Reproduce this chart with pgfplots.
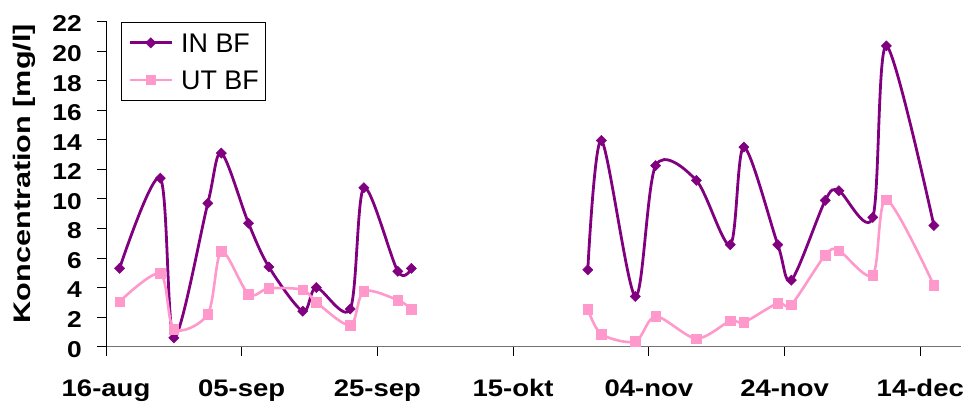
\documentclass[border=0pt]{standalone}
\usepackage{pgfplots}
\pgfplotsset{compat=1.18}
\usepackage{fontspec}
\setmainfont{Liberation Sans}
\newfontfamily\tickfont{Liberation Sans}[FakeStretch=1.15]
\newfontfamily\labfont{Liberation Sans}[FakeStretch=1.28]

\definecolor{inbf}{HTML}{800080}
\definecolor{utbf}{HTML}{FF99CC}

% day 0 = 16-aug
\pgfplotstableread{
day val
2 5.3
8 11.4
10 0.6
15 9.7
17 13.1
21 8.35
24 5.4
29 2.4
31 4.0
36 2.55
38 10.75
43 5.1
45 5.3
}\inA
\pgfplotstableread{
day val
71 5.2
73 13.95
78 3.4
81 12.25
87 11.25
92 6.9
94 13.5
99 6.9
101 4.5
106 9.9
108 10.55
113 8.75
115 20.35
122 8.2
}\inB
\pgfplotstableread{
day val
2 3.05
8 4.95
10 1.2
15 2.2
17 6.45
21 3.55
24 3.95
29 3.85
31 3.0
36 1.45
38 3.75
43 3.15
45 2.55
}\utA
\pgfplotstableread{
day val
71 2.55
73 0.85
78 0.35
81 2.05
87 0.55
92 1.75
94 1.65
99 2.95
101 2.85
106 6.2
108 6.5
113 4.85
115 9.95
122 4.15
}\utB

\begin{document}
\begin{tikzpicture}
\useasboundingbox (0,0) rectangle (967bp,403bp);
\begin{axis}[
  at={(106bp,56.3bp)}, anchor=south west,
  scale only axis, width=855bp, height=325.2bp,
  xmin=0, xmax=126, ymin=0, ymax=22,
  clip=false,
  axis x line*=bottom, axis y line*=left,
  x axis line style={draw=black!55, line width=1.2bp, -},
  y axis line style={draw=black, line width=1bp, -},
  xtick={0,20,...,120},
  xticklabels={16-aug,05-sep,25-sep,15-okt,04-nov,24-nov,14-dec},
  ytick={0,2,...,22},
  tick align=outside, major tick length=9bp,
  tick style={black, line width=0.9bp},
  /pgf/number format/assume math mode=true,
  xticklabel style={font=\tickfont\bfseries\fontsize{24}{24}\selectfont, anchor=base, inner sep=0pt, yshift=-41bp},
  yticklabel style={font=\tickfont\bfseries\fontsize{23}{23}\selectfont, anchor=east, inner sep=0pt, xshift=-15bp, yshift=-2.5bp},
  legend style={at={(axis description cs:0.0175,0.9985)}, anchor=north west,
    draw=black, line width=0.8bp, inner xsep=7bp, inner ysep=10.8bp,
    font=\fontsize{27}{27}\selectfont, row sep=17.7bp,
    nodes={inner sep=0pt, text height=19.3bp, text depth=0pt},
    /tikz/every odd column/.append style={column sep=8bp}},
  legend cell align=left,
  legend image code/.code={%
    \draw[mark repeat=2, mark phase=2, #1] plot coordinates {(0bp,0bp) (21bp,0bp) (42bp,0bp)};},
]
\addplot[inbf, line width=2.8bp, smooth, tension=0.5, mark=square*, mark size=3.6bp,
  mark options={rotate=45, solid, line width=0.5bp}] table[x=day, y=val] {\inA};
\addlegendentry{IN BF}
\addplot[utbf, line width=2.6bp, smooth, tension=0.5, mark=square*, mark size=4.8bp,
  mark options={solid, line width=0.5bp}] table[x=day, y=val] {\utA};
\addlegendentry{UT BF}
\addplot[inbf, line width=2.8bp, smooth, tension=0.5, mark=square*, mark size=3.6bp,
  mark options={rotate=45, solid, line width=0.5bp}, forget plot] table[x=day, y=val] {\inB};
\addplot[utbf, line width=2.6bp, smooth, tension=0.5, mark=square*, mark size=4.8bp,
  mark options={solid, line width=0.5bp}, forget plot] table[x=day, y=val] {\utB};
\end{axis}
\node[rotate=90, anchor=base, inner sep=0pt, font=\labfont\bfseries\fontsize{24}{24}\selectfont]
  at (30bp,229.5bp) {Koncentration [mg/l]};
\end{tikzpicture}
\end{document}
